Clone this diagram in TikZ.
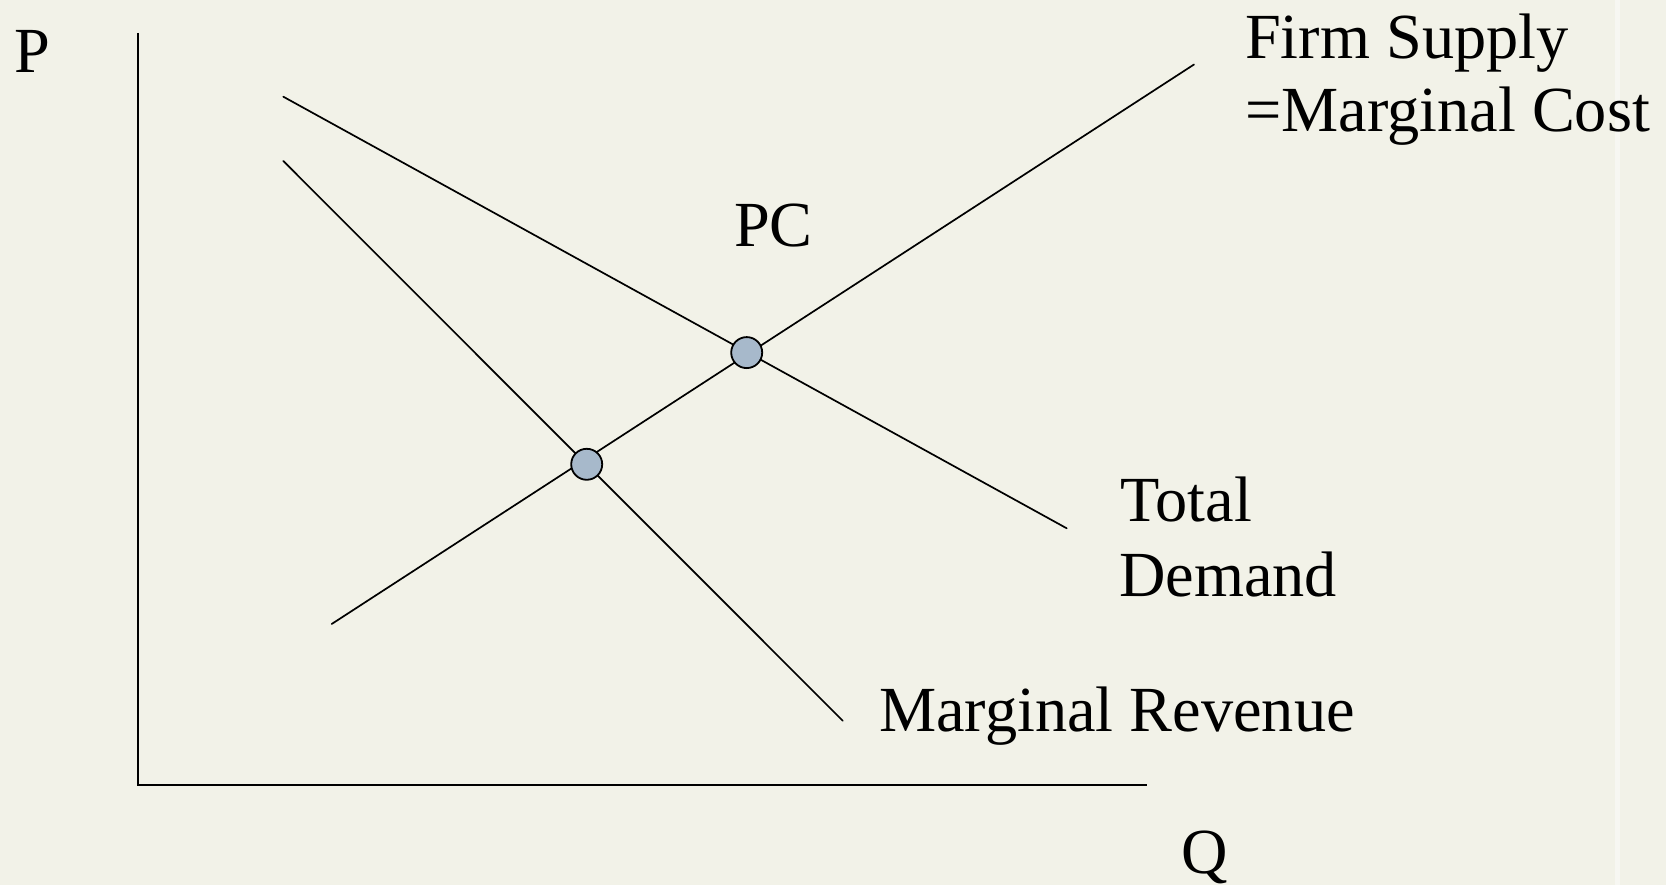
\documentclass[tikz,border=0pt]{standalone}
\usepackage{fontspec}
\setmainfont{Liberation Serif}
\definecolor{paper}{RGB}{242,242,232}
\definecolor{dotfill}{RGB}{167,185,203}
\tikzset{
  curve/.style={line width=1.7pt, line cap=round},
  axis/.style={line width=2pt},
  eqdot/.style={circle, draw=black, line width=1.8pt, fill=dotfill,
                minimum size=31pt, inner sep=0pt},
  lbl/.style={inner sep=0pt, anchor=base west,
              font=\fontsize{64.3pt}{75pt}\selectfont}
}
\begin{document}
\begin{tikzpicture}[x=1pt, y=-1pt]
  % page
  \fill[paper] (0,0) rectangle (1666,885);
  \useasboundingbox (0,0) rectangle (1666,885);
  \fill[white, opacity=0.45] (1615,0) rectangle (1620,885);

  % axes
  \coordinate (origin) at (138,785);
  \coordinate (ytop) at (138,33);
  \coordinate (xend) at (1147,785);
  \draw[axis] (ytop) -- (origin) -- (xend);

  % curve end points
  \coordinate (d1) at (283.3,96.7);
  \coordinate (d2) at (1066.7,528.3);
  \coordinate (mr1) at (283.3,161);
  \coordinate (mr2) at (842.7,720.7);
  \coordinate (s1) at (331.7,624);
  \coordinate (s2) at (1194,64.5);

  \draw[curve] (d1) -- (d2);
  \draw[curve] (mr1) -- (mr2);
  \draw[curve] (s1) -- (s2);

  % equilibrium points
  \node[eqdot] (pc) at (746.7,352.6) {};
  \node[eqdot] (mon) at (586.7,464.3) {};

  % labels
  \node[lbl] (plabel) at (14,72.7) {P};
  \node[lbl] (qlabel) at (1181,873) {Q};
  \node[lbl] (supplyA) at (1245,58.3) {Firm Supply};
  \node[lbl] (supplyB) at (1245,132) {=Marginal Cost};
  \node[lbl] (pclabel) at (734,246.7) {PC};
  \node[lbl] (demandA) at (1120.7,521.7) {Total};
  \node[lbl] (demandB) at (1119,596.7) {Demand};
  \node[lbl] (mrlabel) at (879,731) {Marginal Revenue};
\end{tikzpicture}
\end{document}
